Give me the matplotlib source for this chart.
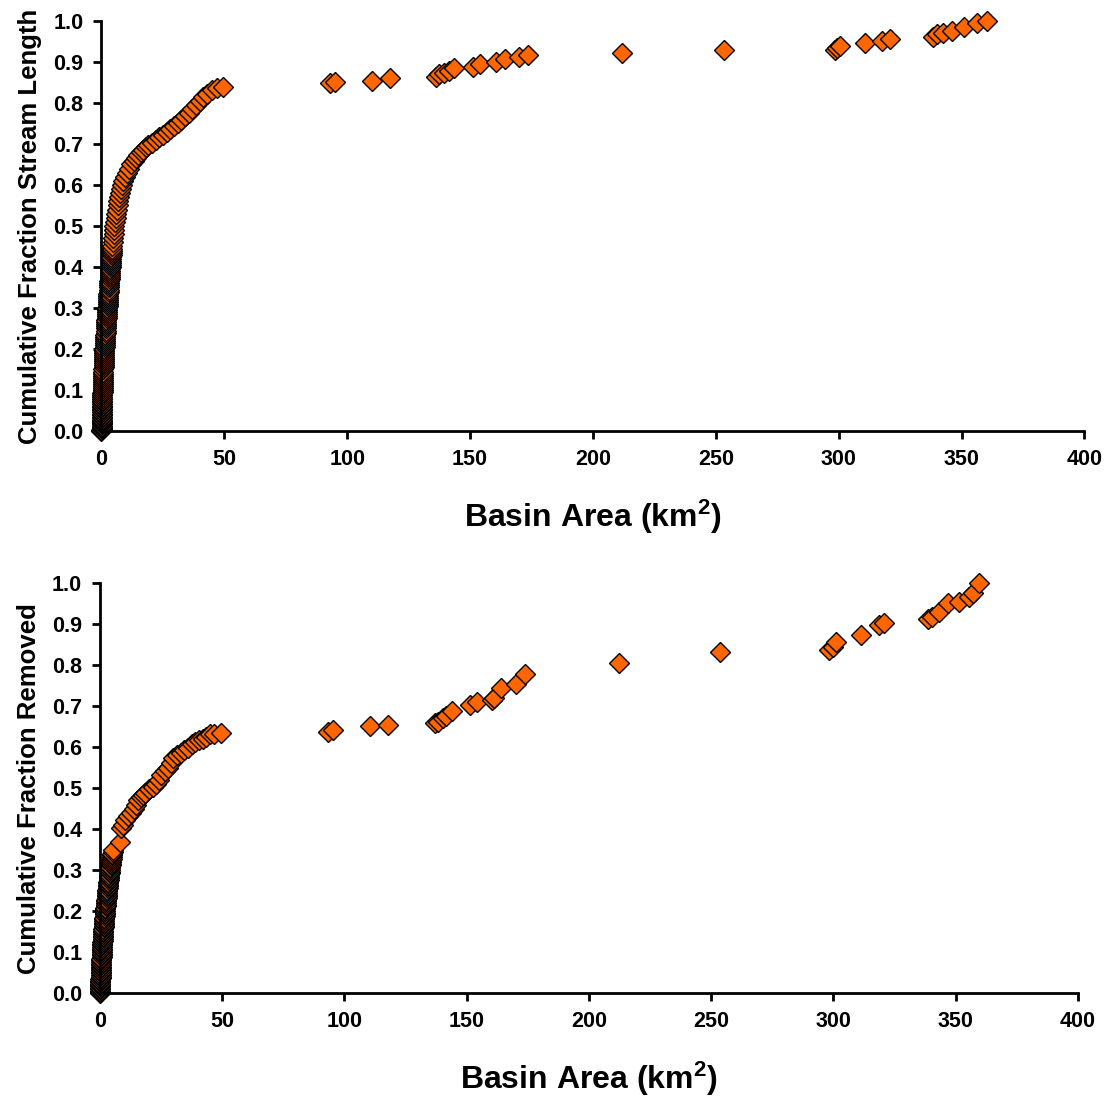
import matplotlib
matplotlib.use("Agg")
import matplotlib.pyplot as plt

plt.rcParams['font.family'] = ['Liberation Sans', 'DejaVu Sans']
plt.rcParams['font.weight'] = 'bold'
plt.rcParams['mathtext.fontset'] = 'custom'
plt.rcParams['mathtext.rm'] = 'Liberation Sans:bold'
plt.rcParams['mathtext.it'] = 'Liberation Sans:bold'
plt.rcParams['mathtext.bf'] = 'Liberation Sans:bold'

# basin area (km2) vs cumulative fraction of stream length
length_area = [
    0.00, 0.01, 0.02, 0.03, 0.04, 0.05, 0.06, 0.07, 0.08, 0.09,
    0.10, 0.11, 0.13, 0.14, 0.16, 0.17, 0.19, 0.20, 0.22, 0.24,
    0.26, 0.28, 0.30, 0.32, 0.35, 0.37, 0.40, 0.43, 0.46, 0.49,
    0.52, 0.55, 0.58, 0.61, 0.65, 0.68, 0.72, 0.76, 0.80, 0.84,
    0.88, 0.92, 0.96, 1.00, 1.04, 1.08, 1.12, 1.16, 1.20, 1.26,
    1.32, 1.38, 1.44, 1.50, 1.56, 1.62, 1.68, 1.74, 1.80, 1.86,
    1.92, 1.98, 2.04, 2.10, 2.16, 2.22, 2.28, 2.34, 2.40, 2.46,
    2.52, 2.58, 2.65, 2.71, 2.78, 2.84, 2.91, 2.97, 3.04, 3.10,
    3.17, 3.23, 3.30, 3.36, 3.43, 3.49, 3.56, 3.63, 3.70, 3.77,
    3.85, 3.92, 4.00, 4.07, 4.15, 4.22, 4.30, 4.37, 4.45, 4.60,
    4.78, 4.95, 5.12, 5.30, 5.55, 5.80, 6.05, 6.30, 6.60, 6.90,
    7.20, 7.50, 7.80, 8.20, 8.8, 9.5, 10.3, 11.2, 12.2, 13.2,
    14.0, 15.0, 16.0, 17.0, 18.0, 19.0, 20.5, 22.0, 23.5, 25.0,
    26.5, 28.0, 29.5, 31.0, 32.5, 34.0, 35.5, 37.0, 38.5, 40.0,
    41.5, 43.0, 45.0, 47.0, 49.5,
    92.8, 95.2, 110.1, 117.4, 136.1, 137.5, 139.5, 141.5, 143.6, 151.0,
    154.1, 160.5, 164.3, 170.0, 173.7, 211.9, 253.2, 298.3, 299.2, 300.6,
    310.7, 317.5, 320.9, 338.5, 339.9, 342.6, 346.0, 350.8, 356.2, 360.3,
]
length_frac = [
    0.000, 0.003, 0.005, 0.008, 0.010, 0.013, 0.016, 0.019, 0.022, 0.025,
    0.028, 0.031, 0.035, 0.038, 0.042, 0.046, 0.050, 0.054, 0.058, 0.062,
    0.066, 0.070, 0.074, 0.078, 0.083, 0.087, 0.092, 0.096, 0.101, 0.105,
    0.110, 0.115, 0.120, 0.125, 0.130, 0.135, 0.140, 0.145, 0.150, 0.155,
    0.160, 0.165, 0.170, 0.175, 0.180, 0.185, 0.190, 0.195, 0.200, 0.205,
    0.210, 0.215, 0.220, 0.225, 0.230, 0.235, 0.240, 0.245, 0.250, 0.255,
    0.260, 0.265, 0.270, 0.275, 0.280, 0.285, 0.290, 0.295, 0.300, 0.305,
    0.310, 0.315, 0.320, 0.325, 0.330, 0.335, 0.340, 0.345, 0.350, 0.355,
    0.360, 0.365, 0.370, 0.375, 0.380, 0.385, 0.390, 0.395, 0.400, 0.405,
    0.410, 0.415, 0.420, 0.425, 0.430, 0.435, 0.440, 0.445, 0.450, 0.460,
    0.470, 0.480, 0.490, 0.500, 0.510, 0.520, 0.530, 0.540, 0.550, 0.560,
    0.570, 0.580, 0.590, 0.600, 0.610, 0.620, 0.630, 0.640, 0.650, 0.658,
    0.666, 0.674, 0.680, 0.686, 0.692, 0.697, 0.703, 0.710, 0.716, 0.722,
    0.729, 0.736, 0.743, 0.750, 0.758, 0.767, 0.776, 0.786, 0.795, 0.805,
    0.814, 0.822, 0.831, 0.837, 0.840,
    0.848, 0.852, 0.854, 0.860, 0.864, 0.871, 0.874, 0.879, 0.885, 0.887,
    0.894, 0.901, 0.907, 0.911, 0.917, 0.921, 0.928, 0.929, 0.935, 0.940,
    0.947, 0.950, 0.956, 0.962, 0.967, 0.971, 0.976, 0.986, 0.994, 1.000,
]

# basin area (km2) vs cumulative fraction removed
removed_area = [
    0.00, 0.01, 0.03, 0.04, 0.06, 0.08, 0.10, 0.12, 0.14, 0.16,
    0.18, 0.20, 0.23, 0.25, 0.28, 0.31, 0.34, 0.37, 0.40, 0.43,
    0.47, 0.50, 0.54, 0.58, 0.62, 0.66, 0.70, 0.74, 0.78, 0.82,
    0.87, 0.91, 0.96, 1.00, 1.05, 1.10, 1.15, 1.20, 1.25, 1.30,
    1.36, 1.41, 1.47, 1.52, 1.58, 1.64, 1.70, 1.76, 1.82, 1.88,
    1.95, 2.01, 2.08, 2.15, 2.22, 2.29, 2.36, 2.43, 2.50, 2.57,
    2.65, 2.72, 2.80, 2.88, 2.96, 3.04, 3.12, 3.20, 3.28, 3.36,
    3.45, 3.53, 3.62, 3.71, 3.80, 3.89, 3.98, 4.07, 4.17, 4.26,
    4.36, 4.46, 4.56, 4.66, 4.76, 4.87, 4.97, 5.08, 5.18, 5.40,
    8.2, 8.4, 9.2, 10.4, 11.5, 12.5, 13.7, 14.6, 15.7, 16.6,
    17.5, 18.5, 20.0, 21.5, 22.7, 24.0, 25.0, 26.5, 28.0, 29.0,
    30.0, 31.5, 33.0, 34.5, 36.0, 37.5, 39.0, 40.5, 42.0, 43.5,
    45.0, 46.5, 49.6,
    93.3, 95.4, 110.3, 117.9, 137.0, 138.3, 140.4, 141.7, 144.2, 151.3,
    154.4, 160.5, 161.2, 164.2, 170.3, 173.8, 212.3, 253.5, 298.4, 299.8,
    300.9, 311.4, 318.9, 320.9, 338.6, 340.4, 343.4, 346.8, 351.6, 355.4,
    357.0, 359.8,
]
removed_frac = [
    0.000, 0.003, 0.006, 0.009, 0.012, 0.016, 0.019, 0.023, 0.026, 0.030,
    0.033, 0.037, 0.040, 0.044, 0.048, 0.052, 0.056, 0.060, 0.064, 0.068,
    0.072, 0.076, 0.080, 0.084, 0.088, 0.092, 0.096, 0.100, 0.104, 0.108,
    0.112, 0.116, 0.120, 0.124, 0.128, 0.132, 0.136, 0.140, 0.144, 0.148,
    0.152, 0.156, 0.160, 0.164, 0.168, 0.172, 0.176, 0.180, 0.184, 0.188,
    0.192, 0.196, 0.200, 0.204, 0.208, 0.212, 0.216, 0.220, 0.224, 0.228,
    0.232, 0.236, 0.240, 0.244, 0.248, 0.252, 0.256, 0.260, 0.264, 0.268,
    0.272, 0.276, 0.280, 0.284, 0.288, 0.292, 0.296, 0.300, 0.304, 0.308,
    0.312, 0.316, 0.320, 0.324, 0.328, 0.332, 0.336, 0.340, 0.344, 0.350,
    0.368, 0.402, 0.410, 0.423, 0.432, 0.440, 0.448, 0.458, 0.470, 0.478,
    0.484, 0.489, 0.497, 0.503, 0.509, 0.520, 0.533, 0.541, 0.550, 0.562,
    0.574, 0.580, 0.587, 0.592, 0.598, 0.607, 0.612, 0.617, 0.621, 0.626,
    0.631, 0.632, 0.635,
    0.638, 0.642, 0.652, 0.654, 0.658, 0.662, 0.670, 0.676, 0.689, 0.703,
    0.711, 0.715, 0.721, 0.744, 0.754, 0.778, 0.806, 0.833, 0.837, 0.845,
    0.857, 0.874, 0.898, 0.902, 0.912, 0.917, 0.931, 0.951, 0.955, 0.967,
    0.976, 1.000,
]

x_ticks = [0, 50, 100, 150, 200, 250, 300, 350, 400]
y_ticks = [0.0, 0.1, 0.2, 0.3, 0.4, 0.5, 0.6, 0.7, 0.8, 0.9, 1.0]

fig = plt.figure(figsize=(11.09, 11.02), dpi=100)
ax1 = fig.add_axes([0.0915, 0.6089, 0.8864, 0.3721])
ax2 = fig.add_axes([0.0902, 0.0989, 0.8816, 0.3718])


def style(ax, ylabel):
    ax.set_xlim(0, 400)
    ax.set_ylim(0, 1.0)
    ax.set_xticks(x_ticks)
    ax.set_yticks(y_ticks)
    ax.set_yticklabels(['%.1f' % v for v in y_ticks])
    for s in ['top', 'right']:
        ax.spines[s].set_visible(False)
    for s in ['left', 'bottom']:
        ax.spines[s].set_linewidth(2)
    ax.tick_params(direction='out', length=6, width=2, labelsize=15.5, pad=7)
    ax.set_xlabel('Basin Area (km$^{2}$)', fontsize=23, fontweight='bold', labelpad=20)
    ax.set_ylabel(ylabel, fontsize=18.5, fontweight='bold', labelpad=8)


ax1.plot(length_area, length_frac, 'D', ms=10, mfc='#FF6600', mec='black', mew=1, clip_on=False)
style(ax1, 'Cumulative Fraction Stream Length')

ax2.plot(removed_area, removed_frac, 'D', ms=10, mfc='#FF6600', mec='black', mew=1, clip_on=False)
style(ax2, 'Cumulative Fraction Removed')

plt.savefig('out.png')
